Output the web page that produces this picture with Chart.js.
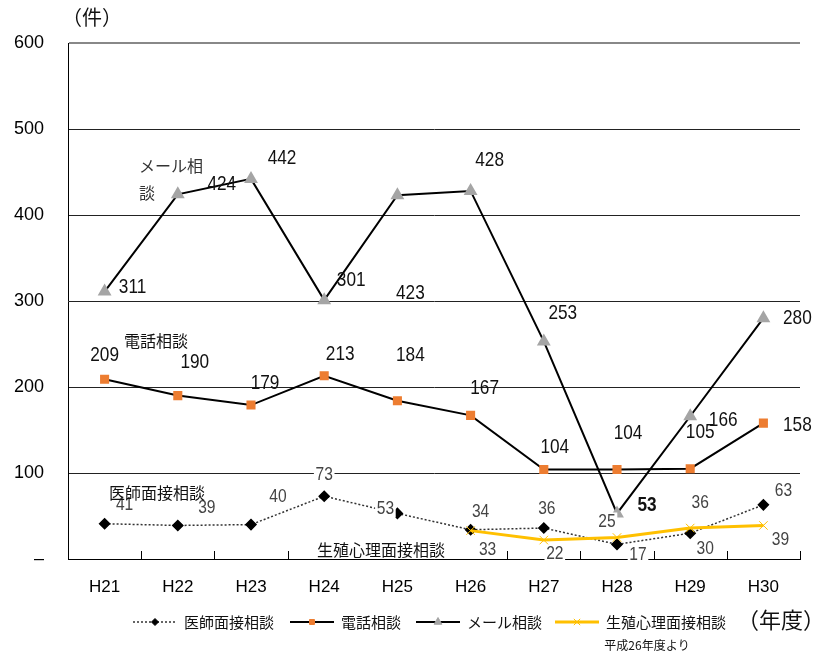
<!DOCTYPE html>
<html>
<head>
<meta charset="utf-8">
<script src="https://cdn.jsdelivr.net/npm/chart.js@4.4.0/dist/chart.umd.min.js"></script>
<style>
html, body { margin: 0; padding: 0; background: #fff; }
</style>
</head>
<body>
<canvas id="mycanvas" width="827" height="657"></canvas>
<script>
// 年度
var years = ['H21', 'H22', 'H23', 'H24', 'H25', 'H26', 'H27', 'H28', 'H29', 'H30'];
var yTicks = [0, 100, 200, 300, 400, 500, 600];

// 件数
var ishi = [41, 39, 40, 73, 53, 34, 36, 17, 30, 63];             // 医師面接相談
var denwa = [209, 190, 179, 213, 184, 167, 104, 104, 105, 158];  // 電話相談
var mail = [311, 424, 442, 301, 423, 428, 253, 53, 166, 280];    // メール相談
var seishoku = [null, null, null, null, null, 33, 22, 25, 36, 39]; // 生殖心理面接相談 (H26~)

// where each value label sits relative to its point
var labelOff = [
  [[20,-19],[29,-18],[27,-28],[0,-21],[-12,-5],[10,-18],[3,-19],[21,10],[15,16],[20,-14]],
  [[0,-24],[17,-33],[14,-22],[16,-22],[13,-46],[14,-27],[11,-22],[11,-36],[10,-36],[34,2]],
  [[28,-4],[44,-10],[31,-21],[27,-20],[13,98],[19,-31],[19,-28],[30,-8],[33,4],[34,0]],
  [null,null,null,null,null,[17,19],[11,14],[-10,-16],[10,-25],[17,14]]
];

var jp = '"Noto Sans CJK JP", "Noto Sans", sans-serif';
var num = '"Liberation Sans", Arial, sans-serif';

// text helper; sx squeezes the glyphs horizontally (narrow figures)
function drawText(ctx, s, x, y, font, color, align, bg, sx) {
  sx = sx || 1;
  ctx.save();
  ctx.font = font;
  ctx.textAlign = align || 'center';
  ctx.textBaseline = 'middle';
  ctx.translate(x, y);
  ctx.scale(sx, 1);
  if (bg) {
    var w = ctx.measureText(s).width;
    var x0 = align === 'left' ? 0 : (align === 'right' ? -w : -w / 2);
    ctx.fillStyle = '#fff';
    ctx.fillRect(x0 - 2, -9, w + 4, 18);
  }
  ctx.fillStyle = color;
  ctx.fillText(s, 0, 0);
  ctx.restore();
}

var extras = {
  id: 'extras',
  afterDatasetsDraw: function(chart) {
    var ctx = chart.ctx;
    var area = chart.chartArea;
    ctx.save();

    // small ticks pointing up from the bottom axis
    var step = (area.right - area.left) / years.length;
    ctx.strokeStyle = '#000';
    ctx.lineWidth = 1;
    for (var i = 1; i <= years.length; i++) {
      var tx = Math.round(area.left + step * i) + 0.5;
      ctx.beginPath();
      ctx.moveTo(tx, area.bottom);
      ctx.lineTo(tx, area.bottom - 8);
      ctx.stroke();
    }

    // value labels
    chart.data.datasets.forEach(function(ds, di) {
      var meta = chart.getDatasetMeta(di);
      ds.data.forEach(function(v, j) {
        if (v === null) return;
        var p = meta.data[j];
        var off = labelOff[di][j];
        var light = (di === 0 || di === 3);
        var f = light ? '19px ' + num : '21px ' + num;
        if (di === 2 && j === 7) f = 'bold 21px ' + num; // the 53 at H28 is bold
        drawText(ctx, String(v), p.x + off[0], p.y + off[1], f,
          light ? '#444' : '#111', 'center', light, 0.82);
      });
    });

    // series names inside the plot
    var nf = '16px ' + jp;
    drawText(ctx, 'メール相', 139, 166, nf, '#333', 'left');
    drawText(ctx, '談', 139, 193, nf, '#333', 'left');
    drawText(ctx, '電話相談', 124, 341, nf, '#111', 'left');
    drawText(ctx, '医師面接相談', 109, 493, nf, '#111', 'left');
    drawText(ctx, '生殖心理面接相談', 317, 550, nf, '#111', 'left', true);

    ctx.restore();
  },
  afterDraw: function(chart) {
    var ctx = chart.ctx;
    ctx.save();
    drawText(ctx, '（件）', 92, 17, '20px ' + jp, '#111', 'center');

    // legend
    var ly = 622;
    var items = [
      {x: 133, text: '医師面接相談'},
      {x: 290, text: '電話相談'},
      {x: 416, text: 'メール相談'},
      {x: 555, text: '生殖心理面接相談'}
    ];
    items.forEach(function(it, k) {
      var ds = chart.data.datasets[k];
      ctx.strokeStyle = ds.borderColor;
      ctx.lineWidth = ds.borderWidth;
      ctx.setLineDash(ds.borderDash || []);
      ctx.beginPath();
      ctx.moveTo(it.x, ly);
      ctx.lineTo(it.x + 44, ly);
      ctx.stroke();
      ctx.setLineDash([]);
      ctx.fillStyle = ds.pointBackgroundColor;
      ctx.strokeStyle = ds.pointBorderColor;
      ctx.lineWidth = 1;
      Chart.helpers.drawPoint(ctx, {
        pointStyle: ds.pointStyle,
        radius: ds.pointRadius - 1.5,
        borderWidth: 1
      }, it.x + 22, ly);
      drawText(ctx, it.text, it.x + 51, ly, '15px ' + jp, '#111', 'left');
    });
    drawText(ctx, '（年度）', 781, 620, '22px ' + jp, '#111', 'center');
    drawText(ctx, '平成26年度より', 647, 645, '12px ' + jp, '#111', 'center');
    ctx.restore();
  }
};

var ctx = document.getElementById('mycanvas').getContext('2d');
var lineChart = new Chart(ctx, {
  type: 'line',
  data: {
    labels: years,
    datasets: [
      {
        label: '医師面接相談',
        data: ishi,
        borderColor: '#333',
        borderWidth: 1.5,
        borderDash: [2, 2],
        pointStyle: 'rectRot',
        pointRadius: 5,
        pointBackgroundColor: '#000',
        pointBorderColor: '#000',
        order: 3
      },
      {
        label: '電話相談',
        data: denwa,
        borderColor: '#000',
        borderWidth: 2,
        pointStyle: 'rect',
        pointRadius: 5,
        pointBackgroundColor: '#ED7D31',
        pointBorderColor: '#ED7D31',
        order: 1
      },
      {
        label: 'メール相談',
        data: mail,
        borderColor: '#000',
        borderWidth: 2,
        pointStyle: 'triangle',
        pointRadius: 6,
        pointBackgroundColor: '#A5A5A5',
        pointBorderColor: '#A5A5A5',
        order: 0
      },
      {
        label: '生殖心理面接相談',
        data: seishoku,
        borderColor: '#FFC000',
        borderWidth: 3,
        pointStyle: 'crossRot',
        pointRadius: 6,
        pointBackgroundColor: '#FFC000',
        pointBorderColor: '#FFC000',
        pointBorderWidth: 1,
        order: 2
      }
    ]
  },
  options: {
    responsive: false,
    animation: false,
    devicePixelRatio: 1,
    layout: { padding: { top: 43, right: 27, bottom: 58, left: 0 } },
    plugins: { legend: { display: false }, tooltip: { enabled: false } },
    scales: {
      x: {
        offset: true,
        grid: { display: false },
        border: { display: true, color: '#000', width: 1 },
        ticks: { color: '#000', padding: 10, font: { family: 'Liberation Sans', size: 17 } },
        afterFit: function(s) { s.height = 40; }
      },
      y: {
        min: 0,
        max: 600,
        afterBuildTicks: function(s) { s.ticks = yTicks.map(function(v) { return {value: v}; }); },
        grid: {
          drawTicks: false,
          color: function(c) { return c.tick.value === 600 ? '#888' : '#222'; },
          lineWidth: function(c) { return c.tick.value === 600 ? 2 : 1; }
        },
        border: { display: true, color: '#000', width: 1 },
        ticks: {
          color: '#000',
          padding: 24,
          font: { family: 'Liberation Sans', size: 18 },
          callback: function(v) { return v === 0 ? '–' : v; }
        },
        afterFit: function(s) { s.width = 68; }
      }
    }
  },
  plugins: [extras]
});
</script>
</body>
</html>
